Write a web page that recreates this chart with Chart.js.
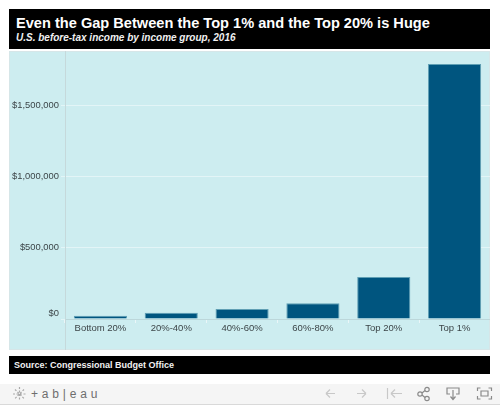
<!DOCTYPE html>
<html><head><meta charset="utf-8">
<style>
html,body{margin:0;padding:0;background:#fff;width:500px;height:405px;overflow:hidden;font-family:"Liberation Sans",Arial,sans-serif}
.abs{position:absolute}
#head{left:9px;top:9px;width:481px;height:40px;background:#000;color:#fff}
#t1{position:absolute;left:7px;top:4px;font-size:14.6px;font-weight:bold;line-height:20px;white-space:nowrap}
#t2{position:absolute;left:7px;top:22px;font-size:10px;font-weight:bold;font-style:italic;line-height:14px;white-space:nowrap;color:#f0f0f0}
#panel{left:9px;top:51px;width:481px;height:299px;background:#cdedf0;box-shadow:inset 0 0 0 1px #d6e6e8}
#ext{left:65px;top:319px;width:1px;height:31px;background:#c5d9db}
#wrap{left:9px;top:51px;width:481px;height:299px}
#foot{left:9px;top:356px;width:481px;height:18px;background:#000;color:#f2f2f2;font-size:9px;font-weight:bold;line-height:18px;text-indent:5px}
#bar{left:0;top:384px;width:500px;height:20px;background:#f5f5f5;border-bottom:1px solid #d9d9d9}
#logo{position:absolute;left:31px;top:2px;font-size:12px;color:#6e6e6e;letter-spacing:.25px;line-height:16px;white-space:nowrap}
svg{position:absolute;left:0;top:0}
</style></head><body>
<div class="abs" id="head"><div id="t1">Even the Gap Between the Top 1% and the Top 20% is Huge</div><div id="t2">U.S. before-tax income by income group, 2016</div></div>
<div class="abs" id="panel"></div>
<div class="abs" id="ext"></div>
<div class="abs" id="wrap"><canvas id="c" width="481" height="299" style="width:481px;height:299px;display:block"></canvas></div>
<div class="abs" id="foot">Source: Congressional Budget Office</div>
<div class="abs" id="bar">
<svg width="500" height="20" fill="none" stroke-width="1.2">
<g stroke="#a9a9a9" stroke-dasharray="2 1.5"><path d="M19.5 3v14M13 10h13M15 5.5l9 9M24 5.5l-9 9"/></g>
<g stroke="#c8c8c8"><path d="M326 9.5h9M326 9.5l4-4M326 9.5l4 4M357 9.5h9M366 9.5l-4-4M366 9.5l-4 4M387.5 4v11M391 9.5h11M391 9.5l4-4M391 9.5l4 4"/></g>
<g stroke="#8a8a8a"><circle cx="420" cy="10" r="2.2"/><circle cx="427" cy="5.5" r="2.2"/><circle cx="427" cy="14.5" r="2.2"/><path d="M422 9l3-2.5M422 11l3 2.5"/>
<path d="M450 10h-3V4h12v6h-3M453 6v9M450.5 12.5l2.5 3 2.5-3"/>
<path d="M477.5 7V4h3M488.5 4h3v3M491.5 12v3h-3M480.5 15h-3v-3M481 7h7v5h-7z"/></g>
</svg>
<div id="logo">+ a b | e a u</div>
</div>
<script src="https://cdn.jsdelivr.net/npm/chart.js@4"></script>
<script>
const categories = ["Bottom 20%", "20%-40%", "40%-60%", "60%-80%", "Top 20%", "Top 1%"];
const incomes = [23000, 44000, 70000, 110000, 295000, 1790000];
const yTicks = [0, 500000, 1000000, 1500000];
const yTickLabels = ["$0", "$500,000", "$1,000,000", "$1,500,000"];
const yMax = 1882000;

new Chart(document.getElementById("c"), {
  type: "bar",
  data: { labels: categories, datasets: [{ data: incomes, backgroundColor: "#00557f", borderColor: "#5f9fb4", borderWidth: {top:1,left:1,right:1,bottom:0}, categoryPercentage: 1, barPercentage: 0.75 }] },
  options: {
    responsive: false, animation: false,
    layout: { padding: 0 },
    plugins: { legend: { display: false }, tooltip: { enabled: false } },
    scales: {
      x: {
        offset: true,
        afterFit(s){ s.height = 31; s.paddingLeft = 0; s.paddingRight = 0; },
        grid: { display: true, drawOnChartArea: false, color: "#eaf6f8", tickLength: 4, offset: true },
        border: { color: "#bcd7da", width: 1 },
        ticks: { color: "#3c4548", font: { family: "Liberation Sans", size: 9.5 }, padding: 0, maxRotation: 0, autoSkip: false }
      },
      y: {
        min: 0, max: yMax,
        afterFit(s){ s.width = 56; s.paddingTop = 0; s.paddingBottom = 0; },
        afterBuildTicks(s){ s.ticks = yTicks.map(v => ({ value: v })); },
        grid: { color: "#e3f5f7", lineWidth: 1, tickLength: 4, tickColor: "#e3f5f7" },
        border: { color: "#c5d9db", width: 1 },
        ticks: { color: "#3c4548", font: { family: "Liberation Sans", size: 9.4 }, padding: 2, callback(v){ const t = yTickLabels[yTicks.indexOf(v)]; return v === 0 ? [t, ""] : t; } }
      }
    }
  }
});
</script>
</body></html>
